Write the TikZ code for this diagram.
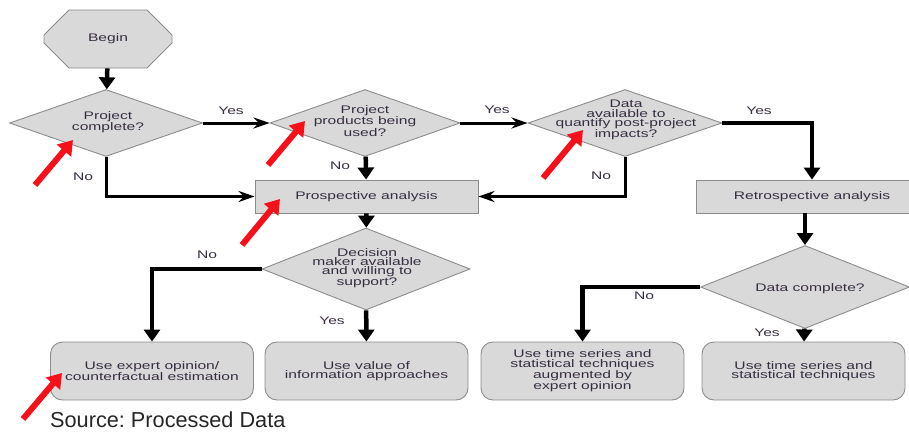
\documentclass[tikz,border=0pt]{standalone}
\usepackage{fontspec}
\setmainfont{Liberation Sans}
\newfontfamily\flowfont[FakeStretch=1.42]{Liberation Sans}
\usetikzlibrary{shapes.geometric,shapes.misc,arrows.meta}
\definecolor{boxgray}{HTML}{D9D9D9}
\definecolor{edgegray}{HTML}{8C8C8C}
\definecolor{inkpurple}{HTML}{382E42}
\definecolor{markred}{HTML}{F5101A}
\frenchspacing

\begin{document}
\begin{tikzpicture}[x=1pt,y=-1pt,
    every node/.style={font=\flowfont\fontsize{11}{9.3}\selectfont, text=inkpurple, align=center, inner sep=0pt},
    base/.style={fill=boxgray, draw=edgegray, line width=0.9pt},
    startbox/.style={base, chamfered rectangle, chamfered rectangle xsep=14pt, chamfered rectangle ysep=29pt, minimum width=128pt, minimum height=58pt},
    decision/.style={base, diamond, minimum width=#1},
    procbox/.style={base, rectangle, minimum height=33pt},
    endbox/.style={base, rectangle, rounded corners=12pt, minimum width=203pt, minimum height=58pt},
    vflow/.style={line width=4.5pt, -{Triangle[length=12pt,width=16pt]}},
    hflow/.style={line width=3pt, -{Stealth[length=16pt,width=11pt]}},
    redmark/.style={markred, line width=6pt, -{Triangle[length=14pt,width=18pt]}}
  ]
  \useasboundingbox (0,0) rectangle (909,431);

  % shapes
  \node[startbox] (begin) at (108,39) {Begin};
  \node[decision=193pt, minimum height=67pt] (d1) at (106,123) {};
  \node[decision=190pt, minimum height=67pt] (d2) at (365,123) {};
  \node[decision=194pt, minimum height=67pt] (d3) at (625,123) {};
  \node[procbox, minimum width=223pt] (prosp) at (366.5,196.5) {Prospective analysis};
  \node[procbox, minimum width=232pt] (retro) at (812,196.5) {Retrospective analysis};
  \node[decision=208pt, minimum height=82pt] (d4) at (366,269) {};
  \node[decision=209pt, minimum height=83pt] (d5) at (805,287) {};
  \node[endbox] (b1) at (152,371) {Use expert opinion/\\counterfactual estimation};
  \node[endbox] (b2) at (366.5,371) {Use value of\\information approaches};
  \node[endbox] (b3) at (582.5,371) {Use time series and\\statistical techniques\\augmented by\\expert opinion};
  \node[endbox] (b4) at (803.5,371) {Use time series and\\statistical techniques};

  % texts of the decisions
  \node (d1t) at (108,122) {Project\\complete?};
  \node (d2t) at (365,121) {Project\\products being\\used?};
  \node (d3t) at (626,120) {Data\\available to\\quantify post-project\\impacts?};
  \node (d4t) at (367,268) {Decision\\maker available\\and willing to\\support?};
  \node (d5t) at (810,289) {Data complete?};

  % connectors
  \draw[vflow] (begin) -- (d1);
  \draw[hflow] (d1) -- (d2);
  \draw[hflow] (d2) -- (d3);
  \draw[vflow] (d3.east) -| (retro.north);
  \draw[hflow] (d3.south) |- (prosp.east);
  \draw[vflow] (d2) -- (prosp);
  \draw[hflow] (d1.south) |- (prosp.west);
  \draw[vflow] (prosp) -- (d4);
  \draw[vflow] (d4.west) -| (b1.north);
  \draw[vflow] (d4) -- (b2);
  \draw[vflow] (d5.north |- retro.south) -- (d5.north);
  \draw[vflow] (d5.west) -| (b3.north);
  \draw[vflow] (d5) -- (b4);

  % yes / no
  \node (yes1) at (231,111) {Yes};
  \node (yes2) at (497,110) {Yes};
  \node (yes3) at (759,111) {Yes};
  \node (no1) at (83,177) {No};
  \node (no2) at (340,166) {No};
  \node (no3) at (601,176) {No};
  \node (no4) at (207,255) {No};
  \node (yes4) at (332,321) {Yes};
  \node (no5) at (644,296) {No};
  \node (yes5) at (767,333) {Yes};

  % red markers
  \foreach \a/\b/\c/\d [count=\i] in {35/185/73/140, 268/165/305/121, 543/178/583/130, 242/245/280/199, 23/419/62/373}{
    \coordinate (rt\i) at (\a,\b);
    \coordinate (rh\i) at (\c,\d);
    \draw[redmark] (rt\i) -- (rh\i);
  }

  \node[font=\fontsize{21.7}{24}\selectfont, text=black!85, anchor=base west] (src) at (50,427) {Source: Processed Data};
\end{tikzpicture}
\end{document}
